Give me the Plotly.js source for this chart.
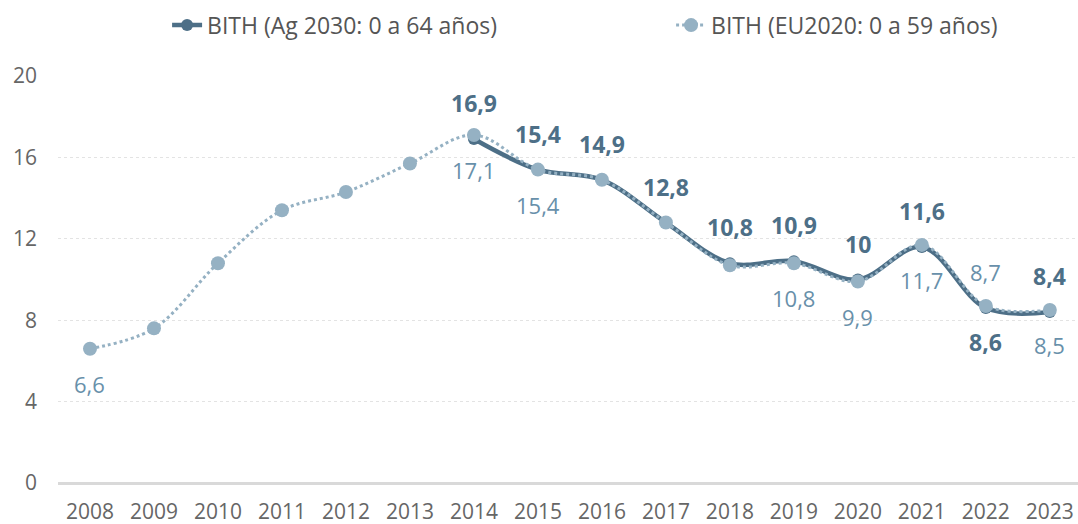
<!DOCTYPE html>
<html>
<head>
<meta charset="utf-8">
<script src="https://cdn.plot.ly/plotly-3.0.1.min.js"></script>
<style>html,body{margin:0;padding:0;background:#fff;}#chart{width:1078px;height:524px;}</style>
</head>
<body>
<div id="chart"></div>
<script>
const years = ['2008','2009','2010','2011','2012','2013','2014','2015','2016','2017','2018','2019','2020','2021','2022','2023'];
const agYears = ['2014','2015','2016','2017','2018','2019','2020','2021','2022','2023'];
const agValues = [16.9, 15.4, 14.9, 12.8, 10.8, 10.9, 10.0, 11.6, 8.6, 8.4];
const euValues = [6.6, 7.6, 10.8, 13.4, 14.3, 15.7, 17.1, 15.4, 14.9, 12.8, 10.7, 10.8, 9.9, 11.7, 8.7, 8.5];
const agLabelPos = ['above','above','above','above','above','above','above','above','below','above'];
const euLabelYears = ['2008','2014','2015','2019','2020','2021','2022','2023'];
const euLabelPos = ['below','below','below','below','below','below','above','below'];
const nameAg = 'BITH (Ag 2030: 0 a 64 años)';
const nameEu = 'BITH (EU2020: 0 a 59 años)';

const darkC = '#4d6f87';
const lightC = '#95b1c3';
const lightText = '#6890aa';

const idx = y => years.indexOf(y);
const fmt = v => String(v).replace('.', ',').replace(/,0$/, '');

const traces = [
  {
    x: agYears.map(idx), y: agValues, name: nameAg, type: 'scatter', mode: 'lines+markers',
    line: {color: darkC, width: 4.5, shape: 'spline', smoothing: 1},
    marker: {color: darkC, size: 12},
    hoverinfo: 'skip'
  },
  {
    x: years.map((y, i) => i), y: euValues, name: nameEu, type: 'scatter', mode: 'lines+markers',
    line: {color: lightC, width: 3, dash: 'dot', shape: 'spline', smoothing: 1},
    marker: {color: lightC, size: 14},
    hoverinfo: 'skip'
  }
];

const annotations = [];
agYears.forEach((y, i) => {
  annotations.push({
    x: idx(y), y: agValues[i], xref: 'x', yref: 'y', text: '<b>' + fmt(agValues[i]) + '</b>',
    showarrow: false, yshift: agLabelPos[i] === 'above' ? 36 : -34,
    font: {family: 'Open Sans, sans-serif', size: 23, color: darkC}
  });
});
euLabelYears.forEach((y, i) => {
  const v = euValues[idx(y)];
  annotations.push({
    x: idx(y), y: v, xref: 'x', yref: 'y', text: fmt(v),
    showarrow: false, yshift: euLabelPos[i] === 'above' ? 34 : -35,
    font: {family: 'Open Sans, sans-serif', size: 22, color: lightText}
  });
});

const layout = {
  width: 1078, height: 524,
  margin: {l: 58, r: 0, t: 76, b: 41},
  paper_bgcolor: '#fff', plot_bgcolor: '#fff',
  showlegend: true,
  legend: {
    orientation: 'h', xref: 'container', yref: 'container',
    x: 0.155, xanchor: 'left', y: 0.952, yanchor: 'middle',
    font: {family: 'Open Sans, sans-serif', size: 23, color: '#555'},
    entrywidth: 459, entrywidthmode: 'pixels'
  },
  xaxis: {
    range: [-0.5, 15.44], tickvals: years.map((y, i) => i), ticktext: years,
    showgrid: false, zeroline: false, showline: false, ticks: '', ticklabelstandoff: 14,
    tickfont: {family: 'Open Sans, sans-serif', size: 21, color: '#666'},
    fixedrange: true
  },
  yaxis: {
    range: [0, 20], tickvals: [0, 4, 8, 12, 16, 20],
    showgrid: true, gridcolor: '#e3e3e3', griddash: 'dot', gridwidth: 1,
    zeroline: true, zerolinecolor: '#d9d9d9', zerolinewidth: 3,
    showline: false, ticks: '', ticklabelstandoff: 20,
    tickfont: {family: 'Open Sans, sans-serif', size: 21, color: '#666'},
    fixedrange: true
  },
  annotations: annotations
};

Plotly.newPlot('chart', traces, layout, {displayModeBar: false, staticPlot: true});
</script>
</body>
</html>
